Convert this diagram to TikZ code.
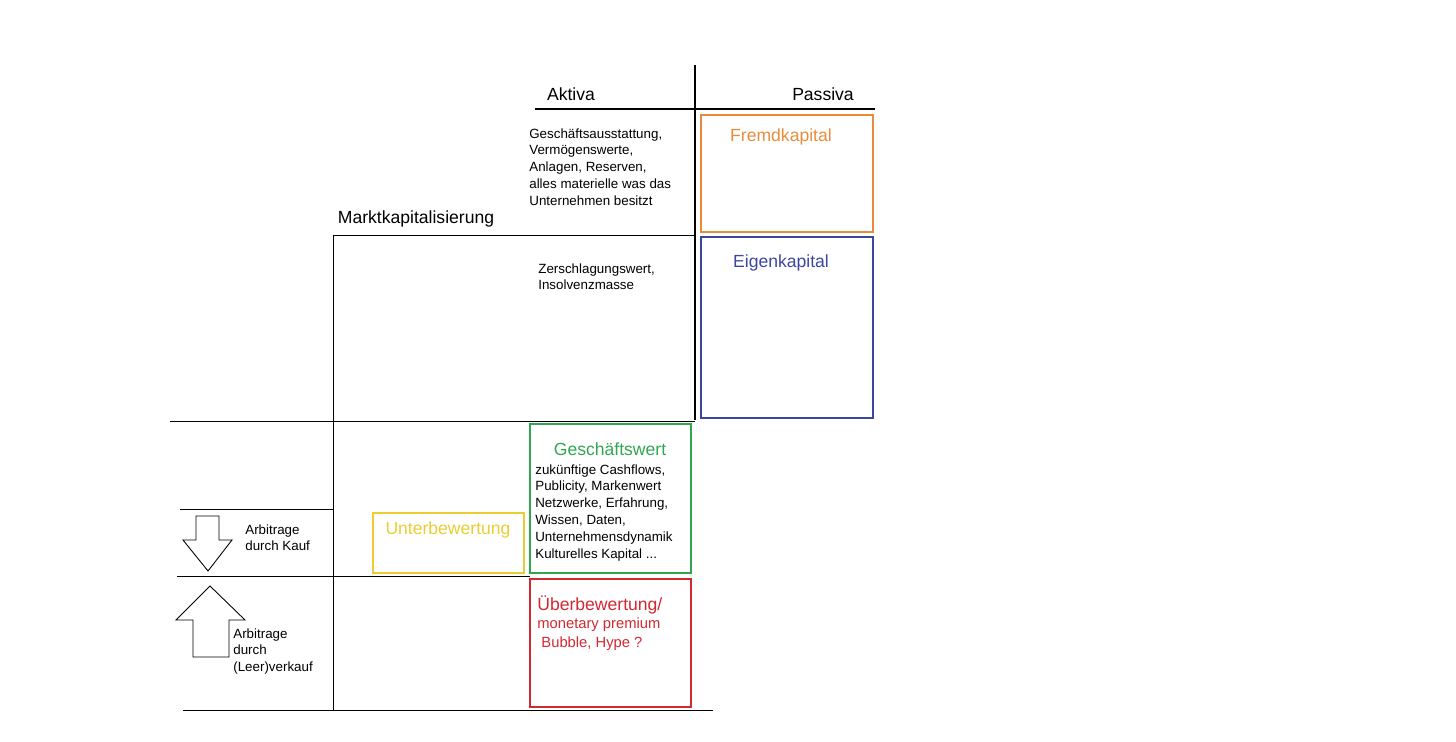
\documentclass[tikz,border=0pt]{standalone}
\usepackage{fontspec}
\setmainfont{Liberation Sans}
\usetikzlibrary{positioning}
\definecolor{fkorange}{RGB}{232,140,60}
\definecolor{ekblue}{RGB}{60,70,160}
\definecolor{gwgreen}{RGB}{50,165,80}
\definecolor{ubyellow}{RGB}{235,205,50}
\definecolor{ubred}{RGB}{210,40,50}
\tikzset{
	head/.style={font=\fontsize{10}{12}\selectfont},
	small/.style={font=\fontsize{7.6}{9.6}\selectfont, align=left, anchor=north west, inner sep=0pt},
	title/.style={font=\fontsize{10}{12}\selectfont},
	frame/.style={line width=1.4pt},
	thin/.style={line width=0.5pt}
}
\begin{document}
\begin{tikzpicture}[x={(0.02cm,0)}, y={(0,-0.02cm)}]
\useasboundingbox (0,0) rectangle (1456,742);
% balance sheet frame
\draw [line width=1.3pt] (695,65) -- (695,420);
\draw [line width=1.3pt] (535,109) -- (875,109);
\node [head] (aktiva) at (571,94) {Aktiva};
\node [head] (passiva) at (823,94) {Passiva};
\draw [frame, fkorange] (701,115) rectangle (873,232);
\node [title, text=fkorange] (fremd) at (781,137) {Fremdkapital};
\draw [frame, ekblue] (701,237) rectangle (873,418);
\node [title, text=ekblue] (eigen) at (781,263) {Eigenkapital};
\node [small] (aktivtext) at (529,128) {Geschäftsausstattung,\\Vermögenswerte,\\Anlagen, Reserven,\\alles materielle was das\\Unternehmen besitzt};
% market capitalisation
\node [head] (markt) at (416,219) {Marktkapitalisierung};
\draw [thin] (333,235) -- (695,235);
\draw [thin] (333,235) -- (333,710);
\node [small] (zersch) at (538,263) {Zerschlagungswert,\\Insolvenzmasse};
\draw [thin] (170,421) -- (695,421);
\draw [thin] (180,509) -- (333,509);
\draw [thin] (177,576) -- (530,576);
\draw [thin] (183,710) -- (713,710);
% goodwill
\draw [frame, gwgreen] (530,424) rectangle (691,573);
\node [title, text=gwgreen] (gwert) at (610,449) {Geschäftswert};
\node [small] (gwtext) at (535,464) {zukünftige Cashflows,\\Publicity, Markenwert\\Netzwerke, Erfahrung,\\Wissen, Daten,\\Unternehmensdynamik\\Kulturelles Kapital ...};
% under / over valuation
\draw [frame, ubyellow] (373,513) rectangle (524,573);
\node [title, text=ubyellow] (unter) at (448,530) {Unterbewertung};
\draw [frame, ubred] (530,579) rectangle (691,707);
\node [title, text=ubred, anchor=west, inner sep=0pt] (ueber) at (537,605) {Überbewertung/};
\node [small, text=ubred, font=\fontsize{8.4}{11}\selectfont] (uebertext) at (537,617) {monetary premium\\\ Bubble, Hype ?};
% arbitrage arrows
\draw [thin] (196,516) -- (219,516) -- (219,540) -- (232,540) -- (208,571) -- (183,540) -- (196,540) -- cycle;
\node [small] (kauf) at (245,524) {Arbitrage\\durch Kauf};
\draw [thin] (193,657) -- (229,657) -- (229,620) -- (245,620) -- (210,586) -- (176,620) -- (193,620) -- cycle;
\node [small] (verkauf) at (233,628) {Arbitrage\\durch\\(Leer)verkauf};
\end{tikzpicture}
\end{document}
